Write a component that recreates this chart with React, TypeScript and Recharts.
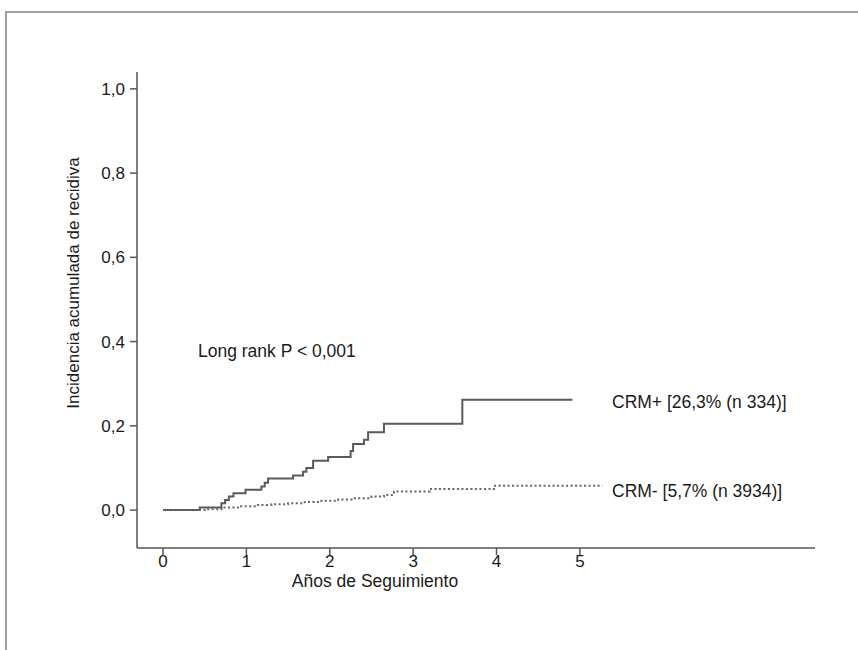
import { CartesianGrid, Line, LineChart, XAxis, YAxis } from 'recharts'

// CRM+ step curve (years, cumulative incidence)
const crmPosT = [0, 0.44, 0.7, 0.745, 0.79, 0.845, 0.99, 1.18, 1.22, 1.26, 1.56, 1.68, 1.72, 1.8, 1.98, 2.25, 2.28, 2.41, 2.46, 2.65, 3.59, 4.91]
const crmPosV = [0, 0.006, 0.016, 0.024, 0.032, 0.04, 0.048, 0.056, 0.065, 0.075, 0.082, 0.091, 0.1, 0.117, 0.126, 0.14, 0.157, 0.167, 0.185, 0.205, 0.262, 0.262]

// CRM- step curve
const crmNegT = [0, 0.5, 0.7, 0.9, 1.1, 1.3, 1.5, 1.7, 1.9, 2.1, 2.3, 2.5, 2.65, 2.77, 3.2, 3.97, 5.27]
const crmNegV = [0, 0.002, 0.006, 0.009, 0.012, 0.014, 0.016, 0.019, 0.022, 0.025, 0.028, 0.032, 0.036, 0.044, 0.05, 0.058, 0.058]

const xTicks = [0, 1, 2, 3, 4, 5]
const yTicks = [0, 0.2, 0.4, 0.6, 0.8, 1.0]

const posData = crmPosT.map((t, i) => ({ t, v: crmPosV[i] }))
const negData = crmNegT.map((t, i) => ({ t, v: crmNegV[i] }))

const font = '"Liberation Sans", Arial, sans-serif'
const textStyle: React.CSSProperties = {
  position: 'absolute',
  fontFamily: font,
  fontSize: 17.5,
  color: '#1a1a1a',
  whiteSpace: 'nowrap',
  lineHeight: 1,
}

export default function App() {
  return (
    <div style={{ position: 'fixed', left: 0, top: 0, width: 858, height: 650, background: '#fff' }}>
      {/* frame */}
      <div
        style={{
          position: 'absolute',
          left: 5,
          top: 11,
          right: 0,
          bottom: 0,
          borderTop: '2px solid #a0a0a0',
          borderLeft: '2px solid #a0a0a0',
        }}
      />
      <LineChart
        width={858}
        height={650}
        margin={{ top: 72, right: 43, left: 0, bottom: 0 }}
        style={{ position: 'absolute', left: 0, top: 0, fontFamily: font }}
      >
        <CartesianGrid stroke="none" />
        <XAxis
          type="number"
          dataKey="t"
          domain={[-0.312, 7.82]}
          ticks={xTicks}
          allowDataOverflow
          height={102}
          stroke="#555"
          strokeWidth={1.5}
          tickSize={7}
          tickMargin={0}
          fontSize={17}
          tick={{ fill: '#1a1a1a', fontSize: 17, fontFamily: font }}
          tickFormatter={(v) => String(v)}
        />
        <YAxis
          type="number"
          domain={[-0.09, 1.04]}
          ticks={yTicks}
          allowDataOverflow
          width={137}
          stroke="#555"
          strokeWidth={1.5}
          tickSize={7}
          tickMargin={5}
          fontSize={17}
          tick={{ fill: '#1a1a1a', fontSize: 17, fontFamily: font }}
          tickFormatter={(v) => Number(v).toFixed(1).replace('.', ',')}
        />
        <Line
          data={posData}
          dataKey="v"
          type="stepAfter"
          stroke="#5a5a5a"
          strokeWidth={2}
          dot={false}
          isAnimationActive={false}
        />
        <Line
          data={negData}
          dataKey="v"
          type="stepAfter"
          stroke="#666"
          strokeWidth={2}
          strokeDasharray="2 2.5"
          dot={false}
          isAnimationActive={false}
        />
      </LineChart>
      <div
        style={{
          ...textStyle,
          fontSize: 17,
          left: 73,
          top: 283,
          transform: 'translate(-50%, -50%) rotate(-90deg)',
        }}
      >
        Incidencia acumulada de recidiva
      </div>
      <div style={{ ...textStyle, left: 375, top: 582, transform: 'translate(-50%, -50%)' }}>
        Años de Seguimiento
      </div>
      <div style={{ ...textStyle, left: 198, top: 352, transform: 'translateY(-50%)' }}>
        Long rank P &lt; 0,001
      </div>
      <div style={{ ...textStyle, left: 612, top: 403, transform: 'translateY(-50%)' }}>
        CRM+ [26,3% (n 334)]
      </div>
      <div style={{ ...textStyle, left: 612, top: 492, transform: 'translateY(-50%)' }}>
        CRM- [5,7% (n 3934)]
      </div>
    </div>
  )
}
